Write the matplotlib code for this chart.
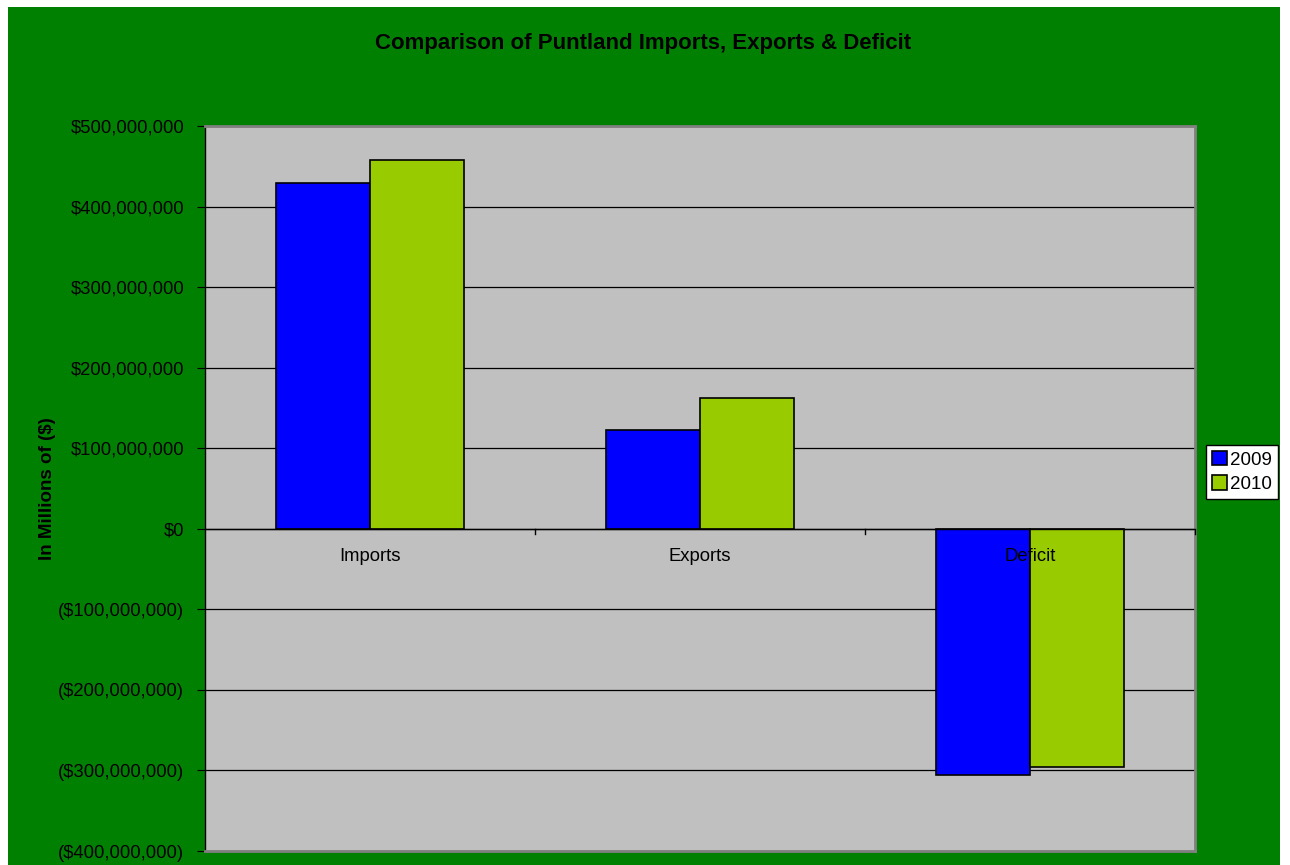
import numpy as np
import matplotlib.pyplot as plt
from matplotlib.patches import Rectangle

plt.rcParams['font.family'] = ['Liberation Sans', 'DejaVu Sans']

categories = ["Imports", "Exports", "Deficit"]
years = ["2009", "2010"]
values_2009 = [429e6, 123e6, -306e6]
values_2010 = [458e6, 162e6, -296e6]
colors = ["#0000FF", "#99CC00"]


def money(v, pos=None):
    if v < 0:
        return "(${:,.0f})".format(-v)
    return "${:,.0f}".format(v)


fig = plt.figure(figsize=(12.9, 8.65), dpi=100, facecolor="white")
# green chart area with thin white margin
fig.patches.append(Rectangle((8 / 1290, 0), 1272 / 1290, 858 / 865,
                             transform=fig.transFigure, facecolor="#008000",
                             edgecolor="none", zorder=-1))

ax = fig.add_axes([205 / 1290, 1 - 851 / 865, 990 / 1290, 725 / 865])
ax.set_facecolor("#C0C0C0")

x = np.arange(len(categories))
w = 1 / 3.5
ax.bar(x - w / 2, values_2009, w, color=colors[0], edgecolor="black",
       linewidth=1.2, label=years[0], zorder=3)
ax.bar(x + w / 2, values_2010, w, color=colors[1], edgecolor="black",
       linewidth=1.2, label=years[1], zorder=3)

ax.set_xlim(-0.5, 2.5)
ax.set_ylim(-400e6, 500e6)
ax.set_yticks(np.arange(-400e6, 500e6 + 1, 100e6))
ax.yaxis.set_major_formatter(plt.FuncFormatter(money))
ax.grid(axis="y", color="black", linewidth=0.9, zorder=1)
ax.axhline(0, color="black", linewidth=1.0, zorder=4)

for side in ["top", "right", "bottom"]:
    ax.spines[side].set_color("#808080")
    ax.spines[side].set_linewidth(2)
ax.spines["left"].set_color("black")
ax.spines["left"].set_linewidth(1)

ax.tick_params(axis="y", labelsize=13.3, length=6, pad=9, direction="out",
               color="black")
ax.set_xticks([])
# category labels and boundary ticks along the zero line
for i, c in enumerate(categories):
    ax.text(i, -34e6, c, ha="center", va="center", fontsize=13.3, zorder=5)
for b in [0.5, 1.5, 2.5]:
    ax.plot([b, b], [0, -6e6], color="black", linewidth=1, zorder=4,
            clip_on=False)

ax.set_ylabel("In Millions of ($)", fontsize=13.5, fontweight="bold")
ax.yaxis.set_label_coords(-0.151, 0.5)

fig.text(643 / 1290, 1 - 44 / 865, "Comparison of Puntland Imports, Exports & Deficit",
         ha="center", va="center", fontsize=16, fontweight="bold")

leg = fig.legend(loc="center", bbox_to_anchor=(1242 / 1290, 1 - 472 / 865),
                 fontsize=13.5, frameon=True, fancybox=False, edgecolor="black",
                 handlelength=0.8, handleheight=0.8, handletextpad=0.2,
                 borderpad=0.3, labelspacing=0.35, borderaxespad=0,
                 framealpha=1)
leg.get_frame().set_linewidth(1)

fig.savefig("out.png", dpi=100, facecolor="white")
